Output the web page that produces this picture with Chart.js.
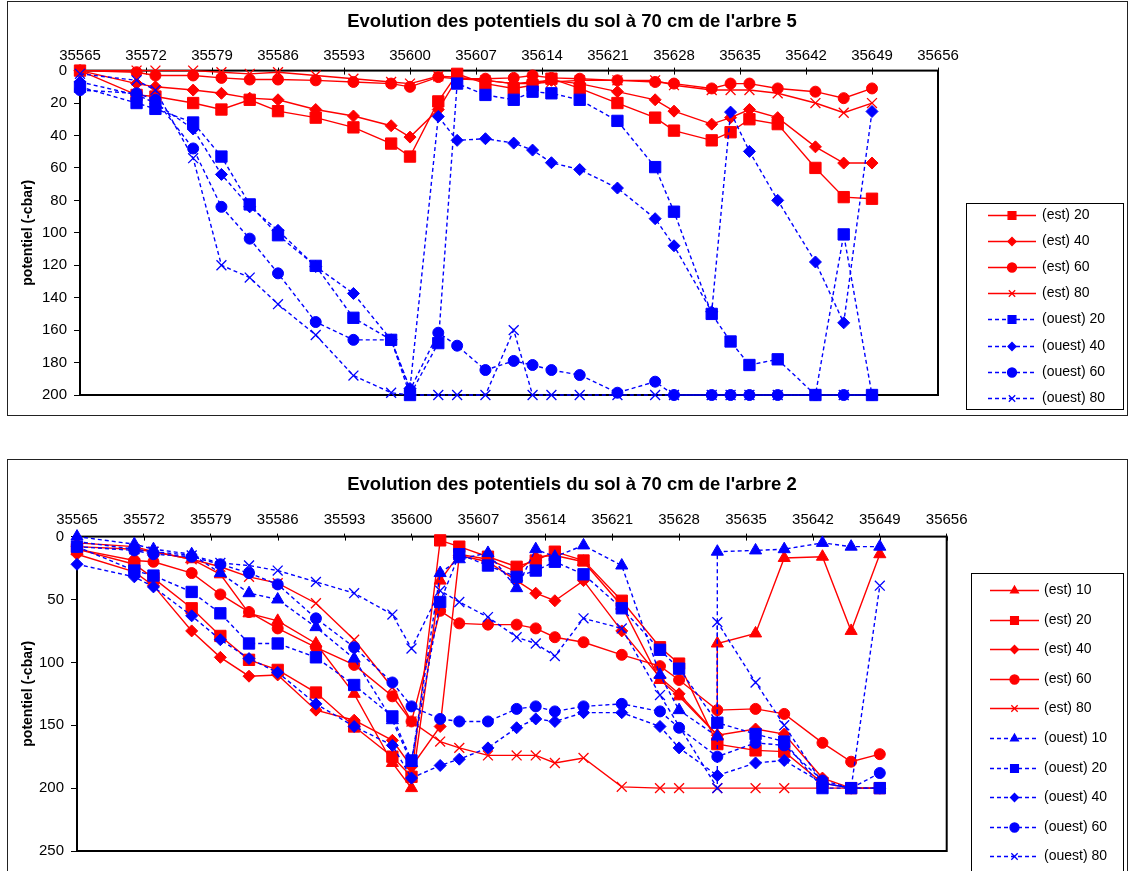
<!DOCTYPE html>
<html>
<head>
<meta charset="utf-8">
<script src="https://cdn.jsdelivr.net/npm/chart.js@4.4.1/dist/chart.umd.min.js"></script>
<style>
  html, body { margin: 0; padding: 0; background: #fff; overflow: hidden; width: 1130px; height: 871px; }
  .box { position: absolute; border: 1px solid #222; box-sizing: border-box; }
  canvas { position: absolute; }
</style>
</head>
<body>
<div class="box" style="left:7px;top:1px;width:1121px;height:415px"></div>
<canvas id="arbre5" width="1119" height="413" style="left:8px;top:2px"></canvas>
<div class="box" style="left:7px;top:459px;width:1121px;height:440px"></div>
<canvas id="arbre2" width="1119" height="411" style="left:8px;top:460px"></canvas>
<script>
// arbre 5 : dates (jours) et potentiels (-cbar)
const dates5 = [35565, 35571, 35573, 35577, 35580, 35583, 35586, 35590, 35594, 35598, 35600, 35603, 35605, 35608,
  35611, 35613, 35615, 35618, 35622, 35626, 35628, 35632, 35634, 35636, 35639, 35643, 35646, 35649];
const est20_5 = [0, 15, 16, 20, 24, 18, 25, 29, 35, 45, 53, 19, 2, 8, 11, 9, 5, 11, 20, 29, 37, 43, 38, 30, 33, 60, 78, 79];
const est40_5 = [0, 8, 10, 12, 14, 17, 18, 24, 28, 34, 41, 24, 5, 6, 8, 7, 6, 8, 13, 18, 25, 33, 29, 24, 29, 47, 57, 57];
const est60_5 = [0, 1, 3, 3, 4.5, 5.5, 5.5, 6, 7, 8, 10, 4, 5, 5, 4.5, 3, 4.5, 5, 6, 7, 8, 11, 8, 8, 11, 13, 17, 11];
const est80_5 = [0, 0, 0, 0, 1, 2, 1, 3, 5, 7, 8, 3.5, 4, 6, 8, 8, 7, 6, 6, 6, 9, 12, 12, 12, 14, 20, 26, 20];
const ouest20_5 = [10, 20, 23.6, 32, 53, 82.5, 101.5, 120.4, 152.4, 166, 200, 168, 8, 15, 18, 13, 14, 18, 31, 59.5, 87, 150, 167, 181.5, 178, 200, 101, 200];
const ouest40_5 = [7, 15, 20, 36, 64, 84, 98.5, 120.8, 137.4, 166, 196, 28.3, 43, 42, 44.7, 49, 56.8, 61, 72.4, 91.3, 108, 148.7, 25.6, 49.8, 80, 118, 155.5, 25.2];
const ouest60_5 = [12, 14, 18, 48, 84, 103.6, 125, 155, 166, 166, 197, 161.6, 169.6, 184.6, 179, 181.5, 184.6, 187.7, 198.6, 191.8, 200, 200, 200, 200, 200, 200, 200, 200];
const ouest80_5 = [2, 6, 12, 54, 120, 127.6, 144, 163, 188, 198.6, 200, 200, 200, 200, 160, 200, 200, 200, 200, 200, 200, 200, 200, 200, 200, 200, 200, 200];

// arbre 2 (deux relevés le 35632)
const dates2 = [35565, 35571, 35573, 35577, 35580, 35583, 35586, 35590, 35594, 35598, 35600, 35603, 35605, 35608,
  35611, 35613, 35615, 35618, 35622, 35626, 35628, 35632, 35632, 35636, 35639, 35643, 35646, 35649];
const est10_2 = [5, 8, 12, 18, 30, 61, 67, 85, 125, 180, 200, 35, 14, 18, 28, 16, 15, 20, 55, 114, 127, 158, 85, 77, 17, 16, 75, 14];
const est20_2 = [10, 22, 33, 57, 79, 98, 106, 124, 151, 175, 191, 3, 8, 16, 24, 19, 12, 19, 51, 88, 101, 165, null, 170, 171, 196, 200, 200];
const est40_2 = [14, 28, 39, 75, 96, 111, 110, 138, 146, 162, 183, 151, 15, 20, 35, 45, 51, 35, 75, 112, 125, 158, null, 153, 157, 192, 200, 200];
const est60_2 = [10, 19, 20, 29, 46, 60, 73, 88, 102, 127, 147, 59, 69, 70, 70, 73, 80, 84, 94, 103, 114, 138, null, 137, 141, 164, 179, 173];
const est80_2 = [8, 10, 12, 18, 24, 32, 37, 53, 82, 120, 147, 163, 168, 174, 174, 174, 180, 176, 199, 200, 200, 200, null, 200, 200, 200, 200, 200];
const ouest10_2 = [0, 6, 10, 14, 29, 45, 50, 72, 97, 146, 180, 29, 18, 13, 41, 10, 16, 7, 23, 110, 138, 159, 12, 11, 10, 5, 8, 8];
const ouest20_2 = [8, 27, 31, 44, 61, 85, 85, 96, 118, 143, 178, 52, 14, 23, 32, 27, 20, 30, 57, 90, 105, 148, null, 157, 163, 200, 200, 200];
const ouest40_2 = [22, 32, 40, 63, 82, 97, 108, 133, 151, 166, 192, 182, 177, 168, 152, 145, 147, 140, 140, 151, 168, 190, null, 180, 178, 196, 200, 200];
const ouest60_2 = [8, 11, 14, 16, 22, 29, 38, 65, 88, 116, 135, 145, 147, 147, 137, 135, 139, 135, 133, 139, 152, 175, null, 164, 166, 194, 200, 188];
const ouest80_2 = [4, 10, 12, 15, 21, 23, 27, 36, 45, 62, 89, 43, 52, 64, 80, 85, 95, 65, 73, 126, null, 200, 68, 116, 150, 196, 200, 39];

const FONT = 'Arial, "Liberation Sans", sans-serif';
const RED = '#FF0000';
const BLUE = '#0000FF';

const markerFor = { 10: 'triangle', 20: 'rect', 40: 'rectRot', 60: 'circle', 80: 'crossRot' };
const sizeFor = { triangle: 7, rect: 8, rectRot: 6, circle: 5.5, crossRot: 7 };
const legendSize = { triangle: 4.5, rect: 5.5, rectRot: 4, circle: 4.5, crossRot: 4.5 };

function makeSet(side, depth, dates, values, i) {
  const est = side === 'est';
  const style = markerFor[depth];
  return {
    label: '(' + side + ') ' + depth,
    data: dates.map((d, k) => ({ x: d, y: values[k] })),
    borderColor: est ? RED : BLUE,
    backgroundColor: est ? RED : BLUE,
    borderWidth: 1.4,
    borderDash: est ? [] : [4, 3],
    pointStyle: style,
    pointRadius: sizeFor[style],
    pointHoverRadius: sizeFor[style],
    pointBorderWidth: style === 'crossRot' ? 1.3 : 1,
    spanGaps: true,
    clip: false,
    order: -i
  };
}

// cadre du tracé, petites graduations internes et légende façon Excel
const framePlugin = {
  id: 'frame',
  beforeDatasetsDraw(chart) {
    const { ctx, chartArea: a } = chart;
    const x = chart.scales.x;
    ctx.save();
    ctx.strokeStyle = '#000';
    ctx.lineWidth = 2;
    ctx.strokeRect(a.left, a.top, a.right - a.left, a.bottom - a.top);
    ctx.lineWidth = 1;
    x.ticks.forEach(t => {
      const px = Math.round(x.getPixelForValue(t.value)) + 0.5;
      ctx.beginPath();
      ctx.moveTo(px, a.top);
      ctx.lineTo(px, a.top + 4);
      ctx.stroke();
    });
    ctx.restore();
  },
  afterDraw(chart, args, opts) {
    const { ctx } = chart;
    const b = opts.box;
    ctx.save();
    ctx.fillStyle = '#fff';
    ctx.fillRect(b[0], b[1], b[2] - b[0], b[3] - b[1]);
    ctx.strokeStyle = '#000';
    ctx.lineWidth = 1;
    ctx.strokeRect(b[0] + 0.5, b[1] + 0.5, b[2] - b[0], b[3] - b[1]);
    ctx.font = '14px ' + FONT;
    ctx.textBaseline = 'middle';
    chart.data.datasets.forEach((ds, i) => {
      const y = Math.round(opts.firstY + i * opts.gap) + 0.5;
      ctx.strokeStyle = ds.borderColor;
      ctx.fillStyle = ds.borderColor;
      ctx.lineWidth = 1.3;
      ctx.setLineDash(ds.borderDash);
      ctx.beginPath();
      ctx.moveTo(opts.lineX[0], y);
      ctx.lineTo(opts.lineX[1], y);
      ctx.stroke();
      ctx.setLineDash([]);
      const mid = (opts.lineX[0] + opts.lineX[1]) / 2;
      if (Chart.helpers && Chart.helpers.drawPoint) {
        Chart.helpers.drawPoint(ctx, {
          pointStyle: ds.pointStyle, radius: legendSize[ds.pointStyle],
          rotation: 0, borderWidth: 1
        }, mid, y);
      }
      ctx.fillStyle = '#000';
      ctx.fillText(ds.label, opts.textX, y);
    });
    ctx.restore();
  }
};

function makeChart(id, title, datasets, yMax, yStep, geo) {
  return new Chart(document.getElementById(id), {
    type: 'line',
    data: { datasets: datasets },
    plugins: [framePlugin],
    options: {
      responsive: false,
      animation: false,
      devicePixelRatio: 1,
      layout: { padding: { left: 9, top: 0, right: 0, bottom: geo.bottom } },
      plugins: {
        legend: { display: false },
        tooltip: { enabled: false },
        title: {
          display: true,
          text: title,
          color: '#000',
          font: { family: FONT, size: 18.5, weight: 'bold' },
          padding: { top: geo.titleTop, bottom: geo.titleBottom }
        },
        frame: geo.legend
      },
      scales: {
        x: {
          type: 'linear',
          position: 'top',
          min: 35565,
          max: 35656,
          afterFit: s => { s.height = 30; },
          ticks: {
            stepSize: 7,
            autoSkip: false,
            maxRotation: 0,
            color: '#000',
            padding: geo.xPad,
            font: { family: FONT, size: 15 },
            callback: v => String(v)
          },
          grid: { display: true, drawOnChartArea: false, drawTicks: true, tickLength: 3, color: '#000' },
          border: { display: false }
        },
        y: {
          type: 'linear',
          reverse: true,
          min: 0,
          max: yMax,
          afterFit: s => { s.width = geo.yWidth; },
          ticks: {
            stepSize: yStep,
            color: '#000',
            padding: 7,
            font: { family: FONT, size: 15 },
            callback: v => String(v)
          },
          grid: { display: true, drawOnChartArea: false, drawTicks: true, tickLength: 6, color: '#000' },
          border: { display: false },
          title: {
            display: true,
            text: 'potentiel (-cbar)',
            color: '#000',
            font: { family: FONT, size: 14, weight: 'bold' },
            padding: { top: 2.6, bottom: 0 }
          }
        },
        // espace réservé à droite pour la légende
        legendSpace: {
          type: 'linear',
          position: 'right',
          afterFit: s => { s.width = geo.right; },
          ticks: { display: false },
          grid: { display: false },
          border: { display: false }
        }
      }
    }
  });
}

const sets5 = [
  makeSet('est', 20, dates5, est20_5, 0),
  makeSet('est', 40, dates5, est40_5, 1),
  makeSet('est', 60, dates5, est60_5, 2),
  makeSet('est', 80, dates5, est80_5, 3),
  makeSet('ouest', 20, dates5, ouest20_5, 4),
  makeSet('ouest', 40, dates5, ouest40_5, 5),
  makeSet('ouest', 60, dates5, ouest60_5, 6),
  makeSet('ouest', 80, dates5, ouest80_5, 7)
];

const sets2 = [
  makeSet('est', 10, dates2, est10_2, 0),
  makeSet('est', 20, dates2, est20_2, 1),
  makeSet('est', 40, dates2, est40_2, 2),
  makeSet('est', 60, dates2, est60_2, 3),
  makeSet('est', 80, dates2, est80_2, 4),
  makeSet('ouest', 10, dates2, ouest10_2, 5),
  makeSet('ouest', 20, dates2, ouest20_2, 6),
  makeSet('ouest', 40, dates2, ouest40_2, 7),
  makeSet('ouest', 60, dates2, ouest60_2, 8),
  makeSet('ouest', 80, dates2, ouest80_2, 9)
];

makeChart('arbre5', "Evolution des potentiels du sol à 70 cm de l'arbre 5", sets5, 200, 20, {
  right: 189, bottom: 20, titleTop: 9.2, titleBottom: 7.2, xPad: 3, yWidth: 63,
  legend: { box: [958, 201, 1115, 407], firstY: 213, gap: 26.1, lineX: [980, 1028], textX: 1034 }
});

makeChart('arbre2', "Evolution des potentiels du sol à 70 cm de l'arbre 2", sets2, 250, 50, {
  right: 180.3, bottom: 20, titleTop: 14.2, titleBottom: 10.2, xPad: 5, yWidth: 60,
  legend: { box: [963, 113, 1115, 430], firstY: 130, gap: 29.6, lineX: [982, 1031], textX: 1036 }
});
</script>
</body>
</html>
